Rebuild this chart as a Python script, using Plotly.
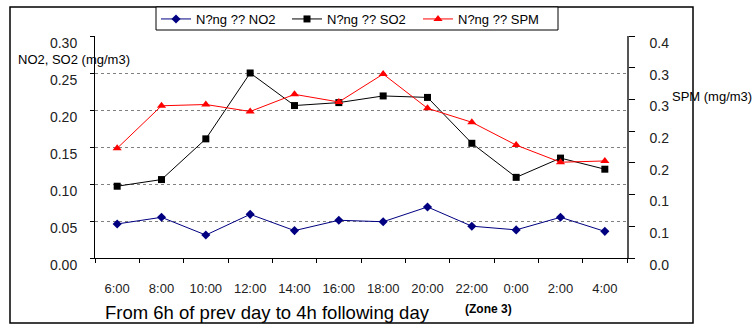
import plotly.graph_objects as go

hours = ["6:00", "8:00", "10:00", "12:00", "14:00", "16:00", "18:00",
         "20:00", "22:00", "0:00", "2:00", "4:00"]
no2 = [0.046, 0.055, 0.031, 0.059, 0.037, 0.051, 0.049, 0.069, 0.043, 0.038, 0.055, 0.036]
so2 = [0.097, 0.106, 0.161, 0.250, 0.206, 0.210, 0.219, 0.217, 0.155, 0.109, 0.135, 0.120]
spm = [0.173, 0.240, 0.242, 0.231, 0.258, 0.246, 0.290, 0.236, 0.214, 0.178, 0.151, 0.153]

left_ticks = [0, 0.05, 0.10, 0.15, 0.20, 0.25, 0.30]
left_labels = ["0.00", "0.05", "0.10", "0.15", "0.20", "0.25", "0.30"]
right_ticks = [0, 0.05, 0.10, 0.15, 0.20, 0.25, 0.30, 0.35]
right_labels = ["0.0", "0.1", "0.1", "0.2", "0.2", "0.3", "0.3", "0.4"]

FONT = "Liberation Sans, Arial, sans-serif"
W, H = 755, 325
L, R, T, B = 95, 627, 36, 258
pw, ph = R - L, B - T

fig = go.Figure()
fig.add_trace(go.Scatter(x=hours, y=no2, name="N?ng ?? NO2", mode="lines+markers",
                         line=dict(color="#000080", width=1),
                         marker=dict(symbol="diamond", size=7, color="#000080")))
fig.add_trace(go.Scatter(x=hours, y=so2, name="N?ng ?? SO2", mode="lines+markers",
                         line=dict(color="#000000", width=1),
                         marker=dict(symbol="square", size=7, color="#000000")))
fig.add_trace(go.Scatter(x=hours, y=spm, name="N?ng ?? SPM", mode="lines+markers",
                         yaxis="y2",
                         line=dict(color="#ff0000", width=1),
                         marker=dict(symbol="triangle-up", size=8, color="#ff0000")))

def px_x(x):
    return (x - L) / pw

def px_y(y):
    return (B - y) / ph

fig.update_layout(
    width=W, height=H,
    margin=dict(l=L, r=W - R, t=T, b=H - B, pad=0, autoexpand=False),
    paper_bgcolor="white", plot_bgcolor="white",
    font=dict(family=FONT, size=13, color="#222222"),
    showlegend=True,
    legend=dict(orientation="h", x=px_x(156), y=px_y(4), xanchor="left", yanchor="top",
                borderwidth=0, bgcolor="rgba(0,0,0,0)",
                font=dict(size=13, color="#000000"), entrywidth=86,
                tracegroupgap=0, itemwidth=30),
    xaxis=dict(type="category", range=[-0.5, 11.5], showline=True, linecolor="#000000",
               linewidth=1, ticks="outside", ticklen=4, tickcolor="#000000",
               tickson="boundaries", showgrid=False, tickfont=dict(size=13),
               ticklabelstandoff=18, zeroline=False, automargin=False),
    yaxis=dict(range=[0, 0.30], tickvals=left_ticks, ticktext=left_labels,
               showline=True, linecolor="#000000", linewidth=1,
               ticks="outside", ticklen=4, tickcolor="#000000",
               showgrid=True, gridcolor="#808080", griddash="dot", gridwidth=1,
               zeroline=False, tickfont=dict(size=14), ticklabelstandoff=10,
               ticklabelshift=7, automargin=False),
    yaxis2=dict(range=[0, 0.35], tickvals=right_ticks, ticktext=right_labels,
                overlaying="y", side="right", showline=True, linecolor="#555555",
                linewidth=1.5, ticks="outside", ticklen=6, tickcolor="#000000",
                showgrid=False, zeroline=False, tickfont=dict(size=14),
                ticklabelstandoff=12, ticklabelshift=7, automargin=False),
    shapes=[dict(type="rect", xref="paper", yref="paper",
                 x0=px_x(10), x1=px_x(693), y0=px_y(323), y1=px_y(7),
                 line=dict(color="#000000", width=1.5), layer="below"),
            dict(type="rect", xref="paper", yref="paper",
                 x0=px_x(156), x1=px_x(558), y0=px_y(30), y1=px_y(7),
                 line=dict(color="#000000", width=1), fillcolor="white", layer="below")],
    annotations=[
        dict(text="NO2, SO2 (mg/m3)", xref="paper", yref="paper",
             x=px_x(74), y=px_y(59), showarrow=False, xanchor="center", yanchor="middle",
             font=dict(size=13, color="#000000")),
        dict(text="SPM (mg/m3)", xref="paper", yref="paper",
             x=px_x(712), y=px_y(96), showarrow=False, xanchor="center", yanchor="middle",
             font=dict(size=13, color="#000000")),
        dict(text="From 6h of prev day to 4h following day", xref="paper", yref="paper",
             x=px_x(267), y=px_y(312), showarrow=False, xanchor="center", yanchor="middle",
             font=dict(size=18.5, color="#000000")),
        dict(text="<b>(Zone 3)</b>", xref="paper", yref="paper",
             x=px_x(488), y=px_y(309), showarrow=False, xanchor="center", yanchor="middle",
             font=dict(size=12, color="#000000")),
    ],
)

fig.write_html("out.html")
